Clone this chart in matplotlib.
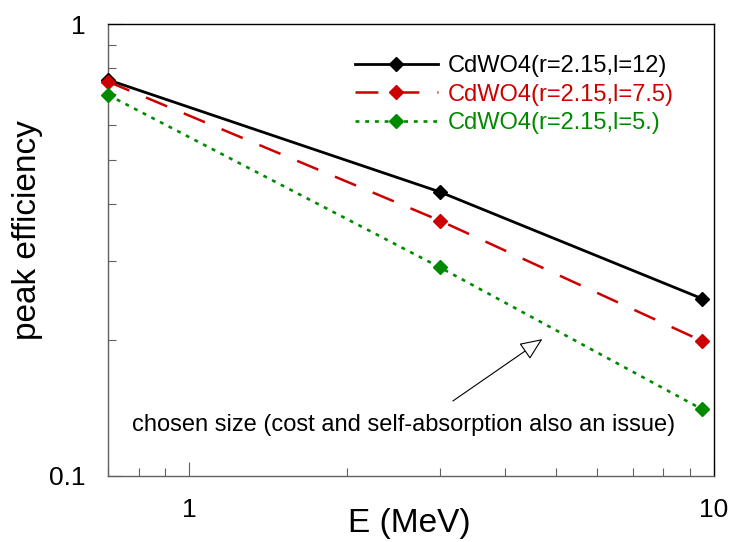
import matplotlib
matplotlib.use("Agg")
import matplotlib.pyplot as plt
from matplotlib.ticker import NullFormatter

plt.rcParams['font.family'] = ['Liberation Sans', 'DejaVu Sans']
plt.rcParams['lines.scale_dashes'] = False

energy = [0.7, 3.0, 9.5]
eff_l12 = [0.754, 0.426, 0.247]
eff_l75 = [0.747, 0.368, 0.199]
eff_l5 = [0.698, 0.290, 0.1405]
labels = ["CdWO4(r=2.15,l=12)", "CdWO4(r=2.15,l=7.5)", "CdWO4(r=2.15,l=5.)"]
colors = ["#000000", "#cc0000", "#008a00"]
xtick_vals = [1, 10]
xtick_labels = ["1", "10"]
ytick_vals = [0.1, 1]
ytick_labels = ["0.1", "1"]
note = "chosen size (cost and self-absorption also an issue)"

fig = plt.figure(figsize=(7.31, 5.42), dpi=100)
ax = fig.add_axes([0.148, 0.1218, 0.8285, 0.833])

styles = [dict(ls='-', lw=2.0),
          dict(ls=(0, (16.5, 13)), lw=1.8),
          dict(ls=(0, (2.8, 4.2)), lw=1.9)]
series = [eff_l12, eff_l75, eff_l5]
for y, lab, c, st in zip(series, labels, colors, styles):
    ax.plot(energy, y, color=c, marker='D', markersize=7, mfc=c, mec=c,
            label=lab, clip_on=False, zorder=3, **st)

ax.set_xscale('log')
ax.set_yscale('log')
ax.set_xlim(0.7, 10)
ax.set_ylim(0.1, 1)

ax.set_xticks(xtick_vals)
ax.set_xticklabels(xtick_labels)
ax.set_yticks(ytick_vals)
ax.set_yticklabels(ytick_labels)
ax.xaxis.set_minor_formatter(NullFormatter())
ax.yaxis.set_minor_formatter(NullFormatter())

gray = '#606060'
for side in ['left', 'bottom']:
    ax.spines[side].set_color(gray)
    ax.spines[side].set_linewidth(1.0)
for side in ['top', 'right']:
    ax.spines[side].set_color('black')
    ax.spines[side].set_linewidth(1.0)

ax.tick_params(which='both', direction='in', top=False, right=False,
               color=gray, width=0.8, labelsize=19, pad=16)
ax.tick_params(which='major', length=10)
ax.tick_params(which='minor', length=5.5)

ax.set_xlabel("E (MeV)", fontsize=24)
ax.set_ylabel("peak efficiency", fontsize=24)
ax.xaxis.set_label_coords(0.498, -0.072)
ax.yaxis.set_label_coords(-0.108, 0.545)

leg = ax.legend(loc='upper left', bbox_to_anchor=(0.4856, 0.8985),
                bbox_transform=fig.transFigure, frameon=False, fontsize=17,
                handlelength=3.5, handletextpad=0.42, labelspacing=0.28,
                borderpad=0, borderaxespad=0, numpoints=1)
for txt, c in zip(leg.get_texts(), colors):
    txt.set_color(c)

ax.text(2.56, 0.1297, note, fontsize=17, ha='center', va='center')
ax.annotate('', xy=(4.71, 0.2010), xytext=(3.18, 0.1466),
            arrowprops=dict(arrowstyle='-|>,head_length=0.7,head_width=0.3',
                            mutation_scale=20, fc='white', ec='black', lw=0.8,
                            shrinkA=0, shrinkB=0))

fig.savefig("out.png", dpi=100)
